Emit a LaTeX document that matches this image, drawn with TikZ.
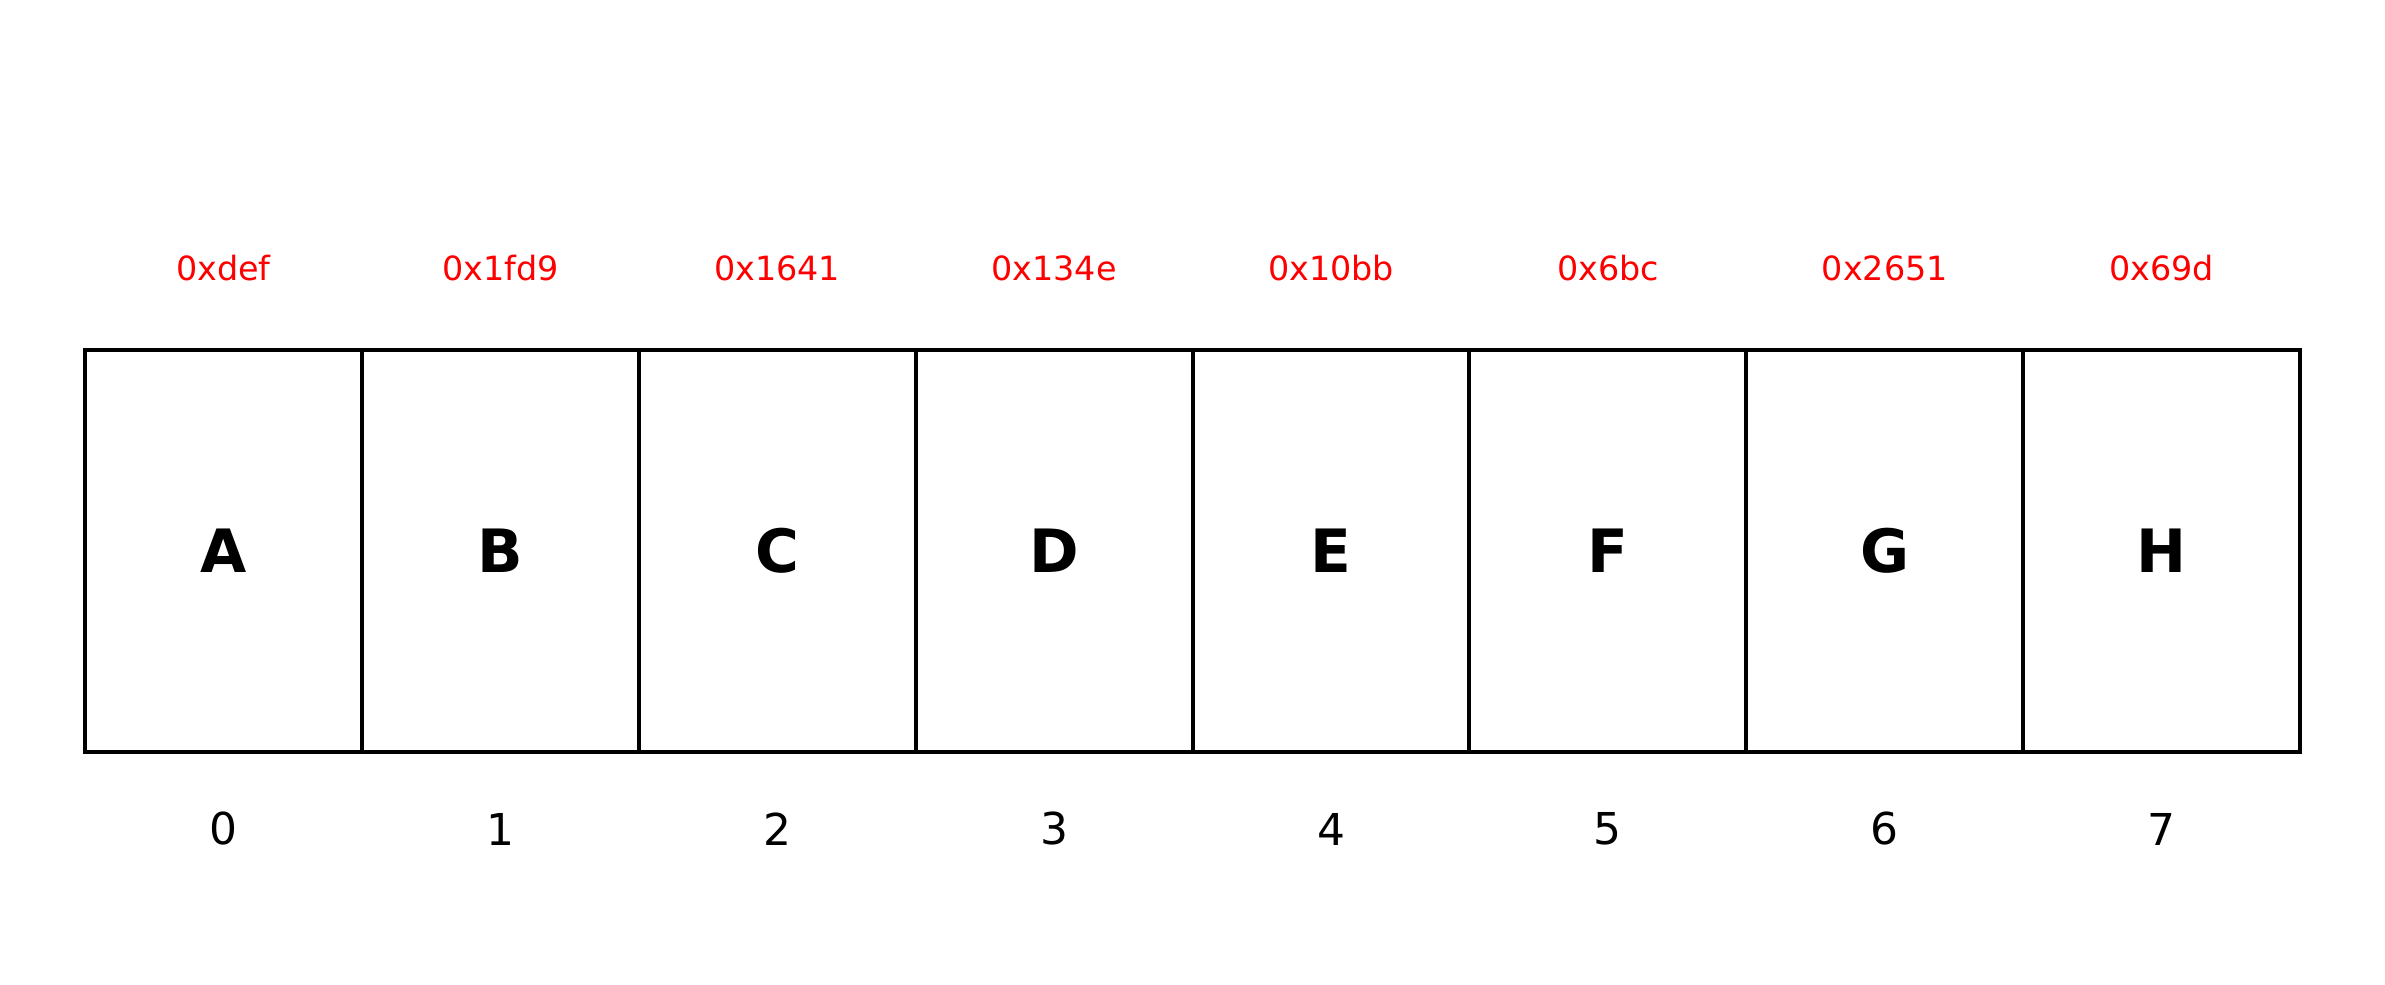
\documentclass[tikz,border=0pt]{standalone}
\usepackage{fontspec}
\setmainfont{DejaVu Sans}
\usetikzlibrary{calc}
\tikzset{% styles for the array cells and their labels
  cell/.style={draw, line width=0.04cm, minimum width=2.769cm, minimum height=4.01cm, inner sep=0pt, font=\fontsize{17}{20}\selectfont\bfseries},
  addr/.style={text=red, font=\fontsize{9.5}{11}\selectfont},
  idx/.style={font=\fontsize{12.5}{15}\selectfont}
}

\begin{document}
\begin{tikzpicture}
\useasboundingbox (0,0) rectangle (23.85,9.84);
% first cell centre, the others follow at 2.769 steps
\coordinate (O) at (2.234,4.33);

% draw the cells with address above and index below
\foreach \l/\h [count=\i from 0] in {A/0xdef, B/0x1fd9, C/0x1641, D/0x134e, E/0x10bb, F/0x6bc, G/0x2651, H/0x69d}{
  \node [cell] (c\i) at ($(O)+(2.769*\i,0)$) {\l};
  \node [addr] (a\i) at ($(O)+(2.769*\i,2.83)$) {\h};
  \node [idx] (n\i) at ($(O)+(2.769*\i,-2.78)$) {\i};
}

\end{tikzpicture}
\end{document}
